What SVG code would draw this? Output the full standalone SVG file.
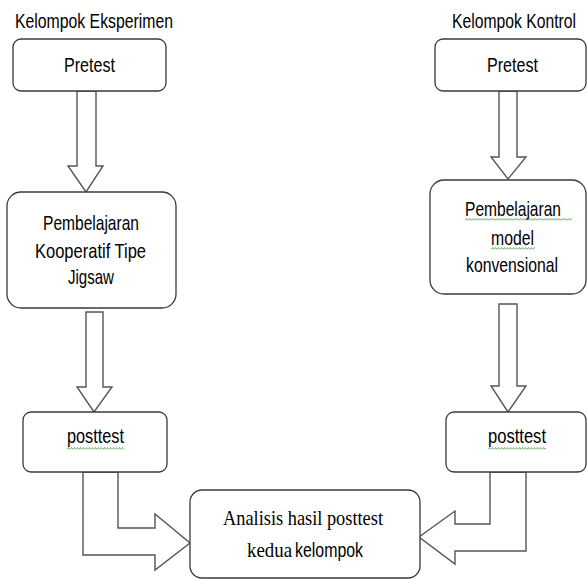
<svg xmlns="http://www.w3.org/2000/svg" width="587" height="579" viewBox="0 0 587 579">
<style>
.box{fill:#fff;stroke:#3a3a3a;stroke-width:1.3}
.arr{fill:#fff;stroke:#555;stroke-width:1.4;stroke-linejoin:miter}
.t{font-family:"Liberation Sans","DejaVu Sans",sans-serif;font-size:21px;fill:#000}
.s{font-family:"Liberation Serif","DejaVu Serif",serif;font-size:22px;fill:#000}
</style>
<defs>
<pattern id="wavy" width="3" height="3" patternUnits="userSpaceOnUse">
<path d="M0,2.5 L1.5,0.5 L3,2.5" fill="none" stroke="#4aa04a" stroke-width="0.8"/>
</pattern>
</defs>
<g id="labels">
<text class="t" x="15" y="28" textLength="158" lengthAdjust="spacingAndGlyphs">Kelompok Eksperimen</text>
<text class="t" x="452" y="28" textLength="124" lengthAdjust="spacingAndGlyphs">Kelompok Kontrol</text>
</g>
<g id="connectors">
<polygon class="arr" points="77,91 96,91 96,166 103,166 86,192 68,166 77,166"/>
<polygon class="arr" points="499,91 517,91 517,157 526,157 508,179 491,157 499,157"/>
<polygon class="arr" points="86,312 103,312 103,387 112,387 94,412 77,387 86,387"/>
<polygon class="arr" points="499,304 517,304 517,386 526,386 508,412 491,386 499,386"/>
<polygon class="arr" points="83,472 83,555 155,555 155,570 190,543 155,514 155,528 118,528 118,472"/>
<polygon class="arr" points="490,472 490,524 455,524 455,511 419,537 455,564 455,551 526,551 526,472"/>
</g>
<g id="pretest-eksperimen">
<rect class="box" x="13" y="39" width="153" height="52" rx="8"/>
<text class="t" x="64" y="72" textLength="51" lengthAdjust="spacingAndGlyphs">Pretest</text>
</g>
<g id="pretest-kontrol">
<rect class="box" x="435" y="39" width="151" height="52" rx="8"/>
<text class="t" x="487" y="72" textLength="51" lengthAdjust="spacingAndGlyphs">Pretest</text>
</g>
<g id="pembelajaran-jigsaw">
<rect class="box" x="7" y="192" width="169" height="116" rx="14"/>
<text class="t" x="43" y="230" textLength="96" lengthAdjust="spacingAndGlyphs">Pembelajaran</text>
<text class="t" x="35" y="258" textLength="111" lengthAdjust="spacingAndGlyphs">Kooperatif Tipe</text>
<text class="t" x="68" y="284" textLength="46" lengthAdjust="spacingAndGlyphs">Jigsaw</text>
</g>
<g id="pembelajaran-konvensional">
<rect class="box" x="430" y="180" width="156" height="114" rx="14"/>
<text class="t" x="465" y="216" textLength="96" lengthAdjust="spacingAndGlyphs">Pembelajaran</text>
<text class="t" x="491" y="245" textLength="43" lengthAdjust="spacingAndGlyphs">model</text>
<text class="t" x="466" y="272" textLength="92" lengthAdjust="spacingAndGlyphs">konvensional</text>
<rect transform="translate(465,218)" width="107" height="3" fill="url(#wavy)"/>
<rect transform="translate(491,247)" width="44" height="3" fill="url(#wavy)"/>
</g>
<g id="posttest-eksperimen">
<rect class="box" x="23" y="412" width="144" height="60" rx="8"/>
<text class="t" x="67" y="443" textLength="57" lengthAdjust="spacingAndGlyphs">posttest</text>
<rect transform="translate(67,447)" width="57" height="3" fill="url(#wavy)"/>
</g>
<g id="posttest-kontrol">
<rect class="box" x="446" y="412" width="140" height="60" rx="8"/>
<text class="t" x="488" y="443" textLength="58" lengthAdjust="spacingAndGlyphs">posttest</text>
<rect transform="translate(488,447)" width="58" height="3" fill="url(#wavy)"/>
</g>
<g id="analisis">
<rect class="box" x="190" y="490" width="230" height="88" rx="12"/>
<text class="s" x="223" y="525" textLength="160" lengthAdjust="spacingAndGlyphs">Analisis hasil posttest</text>
<text class="s" x="247" y="557" textLength="45" lengthAdjust="spacingAndGlyphs">kedua</text>
<text class="t" x="295" y="557" textLength="68" lengthAdjust="spacingAndGlyphs">kelompok</text>
</g>
</svg>
